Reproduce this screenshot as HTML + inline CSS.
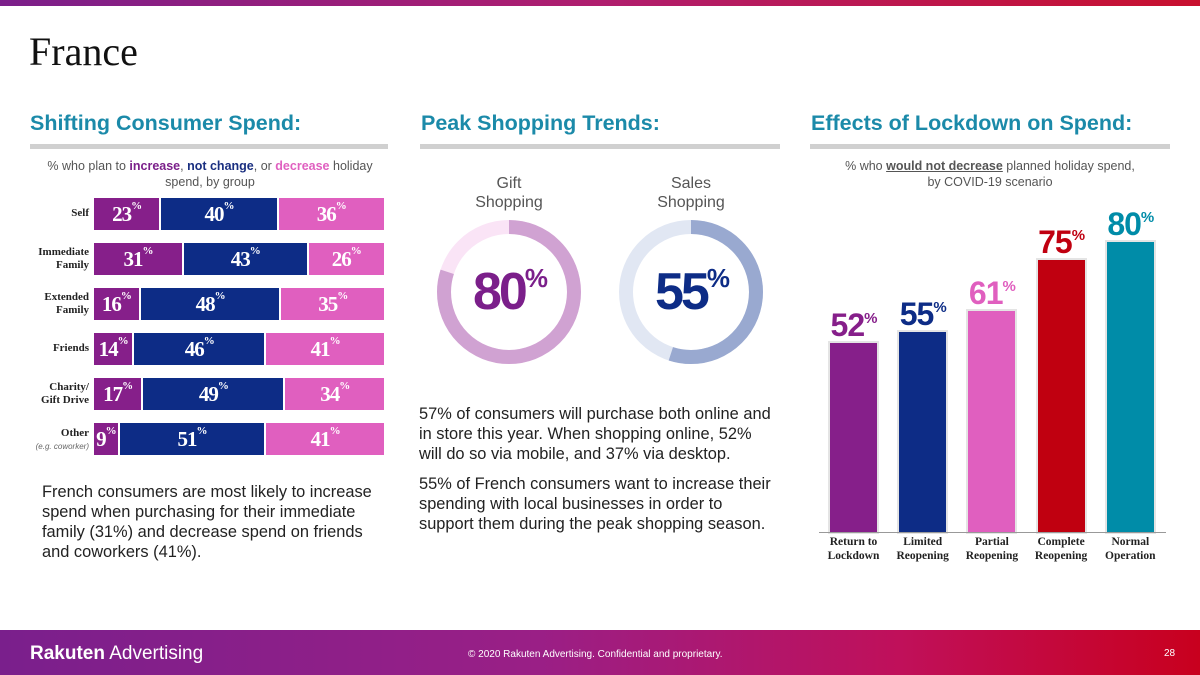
<!DOCTYPE html>
<html><head><meta charset="utf-8">
<style>
*{margin:0;padding:0;box-sizing:border-box}
body{width:1200px;height:675px;overflow:hidden;background:#fff;font-family:"Liberation Sans",sans-serif;position:relative}
.abs{position:absolute}
.h2{position:absolute;top:111px;font-size:21.5px;font-weight:bold;color:#1b8aa9;white-space:nowrap}
.rule{position:absolute;top:144px;height:5px;background:#d0d0d0}
.sub{position:absolute;font-size:12.5px;color:#555;text-align:center;line-height:16px}
.lbl{position:absolute;font-family:"Liberation Serif",serif;font-weight:bold;font-size:11px;text-align:right;line-height:13px;color:#222}
.seg{position:absolute;height:32px;color:#fff;font-family:"Liberation Serif",serif;font-weight:bold;font-size:21px;text-align:center;line-height:32px;border-right:2px solid #fff;letter-spacing:-1px}
.seg sup,.vl sup{font-size:11px;vertical-align:top;line-height:0;position:relative;top:8px}
.vl sup{font-size:15px;top:12px}
.body{position:absolute;font-size:16.4px;color:#222;line-height:20px;white-space:nowrap}
.vl{position:absolute;font-weight:bold;font-size:32px;letter-spacing:-1px;text-align:center;width:80px;line-height:36px}
.xl{position:absolute;font-family:"Liberation Serif",serif;font-weight:bold;font-size:11.5px;text-align:center;line-height:14px;width:70px;color:#222}
</style></head><body>
<div class="abs" style="left:0;top:0;width:1200px;height:6px;background:linear-gradient(90deg,#7b1f8a,#b01e6e,#c8102e)"></div>
<div class="abs" style="left:29px;top:28px;font-family:'Liberation Serif',serif;font-size:40px;color:#111">France</div>

<div class="h2" style="left:30px">Shifting Consumer Spend:</div>
<div class="h2" style="left:421px">Peak Shopping Trends:</div>
<div class="h2" style="left:811px">Effects of Lockdown on Spend:</div>
<div class="rule" style="left:30px;width:358px"></div>
<div class="rule" style="left:420px;width:360px"></div>
<div class="rule" style="left:810px;width:360px"></div>

<div class="sub" style="left:20px;top:158px;width:380px">% who plan to <b style="color:#7b1f8a">increase</b>, <b style="color:#1a2f80">not change</b>, or <b style="color:#e060c0">decrease</b> holiday<br>spend, by group</div>
<div id="stack"></div>

<div class="body" style="left:42px;top:482px">French consumers are most likely to increase<br>spend when purchasing for their immediate<br>family (31%) and decrease spend on friends<br>and coworkers (41%).</div>

<div class="sub" style="left:459px;top:174px;width:100px;font-size:16px;line-height:19px">Gift<br>Shopping</div>
<div class="sub" style="left:641px;top:174px;width:100px;font-size:16px;line-height:19px">Sales<br>Shopping</div>
<svg class="abs" style="left:0;top:0" width="1200" height="675">
 <g id="donuts"></g>
</svg>
<div class="abs" style="left:449px;top:262px;width:120px;text-align:center;font-size:52px;font-weight:bold;color:#7b1f8a;letter-spacing:-3px">80<sup style="font-size:26px;vertical-align:22px">%</sup></div>
<div class="abs" style="left:631px;top:262px;width:120px;text-align:center;font-size:52px;font-weight:bold;color:#0d2c86;letter-spacing:-3px">55<sup style="font-size:26px;vertical-align:22px">%</sup></div>

<div class="body" style="left:419px;top:404px">57% of consumers will purchase both online and<br>in store this year. When shopping online, 52%<br>will do so via mobile, and 37% via desktop.</div>
<div class="body" style="left:419px;top:474px">55% of French consumers want to increase their<br>spending with local businesses in order to<br>support them during the peak shopping season.</div>

<div class="sub" style="left:800px;top:158px;width:380px">% who <b style="text-decoration:underline">would not decrease</b> planned holiday spend,<br>by COVID-19 scenario</div>
<div id="bars"></div>
<div class="abs" style="left:819px;top:532px;width:347px;height:1px;background:#999"></div>

<div class="abs" style="left:0;top:630px;width:1200px;height:45px;background:linear-gradient(90deg,#7a1f8c,#9a1f86 45%,#c0105a 75%,#c8001e)"></div>
<div class="abs" style="left:30px;top:643px;color:#fff;font-size:19px"><b>Rakuten</b> Advertising</div>
<div class="abs" style="left:468px;top:649px;color:#fff;font-size:10px">© 2020 Rakuten Advertising. Confidential and proprietary.</div>
<div class="abs" style="left:1164px;top:648px;color:#fff;font-size:10px">28</div>

<script>
const groups=["Self","Immediate<br>Family","Extended<br>Family","Friends","Charity/<br>Gift Drive","Other"];
const increase=[23,31,16,14,17,9];
const noChange=[40,43,48,46,49,51];
const decrease=[36,26,35,41,34,41];
const stack=document.getElementById('stack');
const x0=94,W=290,rowTop=198,rowStep=45;
const cols=['#861f8a','#0d2c86','#e05fbf'];
groups.forEach((g,i)=>{
  const y=rowTop+i*rowStep;
  const lab=document.createElement('div');
  lab.className='lbl';
  
  
  lab.style.left='10px';lab.style.width='79px';
  const two=g.indexOf('<br>')>=0;
  lab.style.top=(y+(two?3:9))+'px';
  lab.innerHTML=g+(g==='Other'?'<br><i style="font-family:Liberation Sans;font-weight:normal;font-size:8px;color:#666">(e.g. coworker)</i>':'');
  if(g==='Other')lab.style.top=(y+4)+'px';
  stack.appendChild(lab);
  const vals=[increase[i],noChange[i],decrease[i]];
  const tot=vals.reduce((a,b)=>a+b,0);
  let cx=x0;
  vals.forEach((v,k)=>{
    const w=v/tot*W;
    const s=document.createElement('div');
    s.className='seg';
    
    
    s.style.left=cx+'px';s.style.top=y+'px';s.style.width=w+'px';s.style.background=cols[k];
    if(k===2)s.style.borderRight='none';
    s.innerHTML=v+'<sup>%</sup>';
    stack.appendChild(s);
    cx+=w;
  });
});

const donutVals=[80,55];
const donutCx=[509,691];
const donutFg=['#d0a2d2','#99a9d0'],donutBg=['#fae4f6','#e1e7f3'];
const dg=document.getElementById('donuts');
const NS='http://www.w3.org/2000/svg';
donutVals.forEach((v,i)=>{
  const r=65,cy=292,cx=donutCx[i],C=2*Math.PI*r;
  const bg=document.createElementNS(NS,'circle');
  
  
  bg.setAttribute('cx',cx);bg.setAttribute('cy',cy);bg.setAttribute('r',r);
  bg.setAttribute('fill','none');bg.setAttribute('stroke',donutBg[i]);bg.setAttribute('stroke-width',14);
  dg.appendChild(bg);
  const fg=document.createElementNS(NS,'circle');
  
  
  fg.setAttribute('cx',cx);fg.setAttribute('cy',cy);fg.setAttribute('r',r);
  fg.setAttribute('fill','none');fg.setAttribute('stroke',donutFg[i]);fg.setAttribute('stroke-width',14);
  fg.setAttribute('stroke-dasharray',(C*v/100)+' '+C);
  fg.setAttribute('transform','rotate(-90 '+cx+' '+cy+')');
  dg.appendChild(fg);
});

const scenarios=["Return to<br>Lockdown","Limited<br>Reopening","Partial<br>Reopening","Complete<br>Reopening","Normal<br>Operation"];
const scenarioVals=[52,55,61,75,80];
const barCols=['#861f8a','#0d2c86','#e05fbf','#c00010','#008ca8'];
const bars=document.getElementById('bars');
const base=532,scale=3.63,bx0=830,bstep=69.2,bw=47;
scenarioVals.forEach((v,i)=>{
  const h=v*scale,x=bx0+i*bstep;
  const b=document.createElement('div');
  b.className='abs';
  
  
  b.style.left=x+'px';b.style.top=(base-h)+'px';b.style.width=bw+'px';b.style.height=h+'px';b.style.background=barCols[i];
  b.style.outline='2px solid #e4e4e4';
  bars.appendChild(b);
  const l=document.createElement('div');
  l.className='vl';
  
  
  l.style.left=(x+bw/2-40)+'px';l.style.top=(base-h-36)+'px';l.style.color=barCols[i];
  l.innerHTML=v+'<sup>%</sup>';
  bars.appendChild(l);
  const t=document.createElement('div');
  t.className='xl';
  
  
  t.style.left=(x+bw/2-35)+'px';t.style.top='535px';
  t.innerHTML=scenarios[i];
  bars.appendChild(t);
});
</script>
</body></html>
